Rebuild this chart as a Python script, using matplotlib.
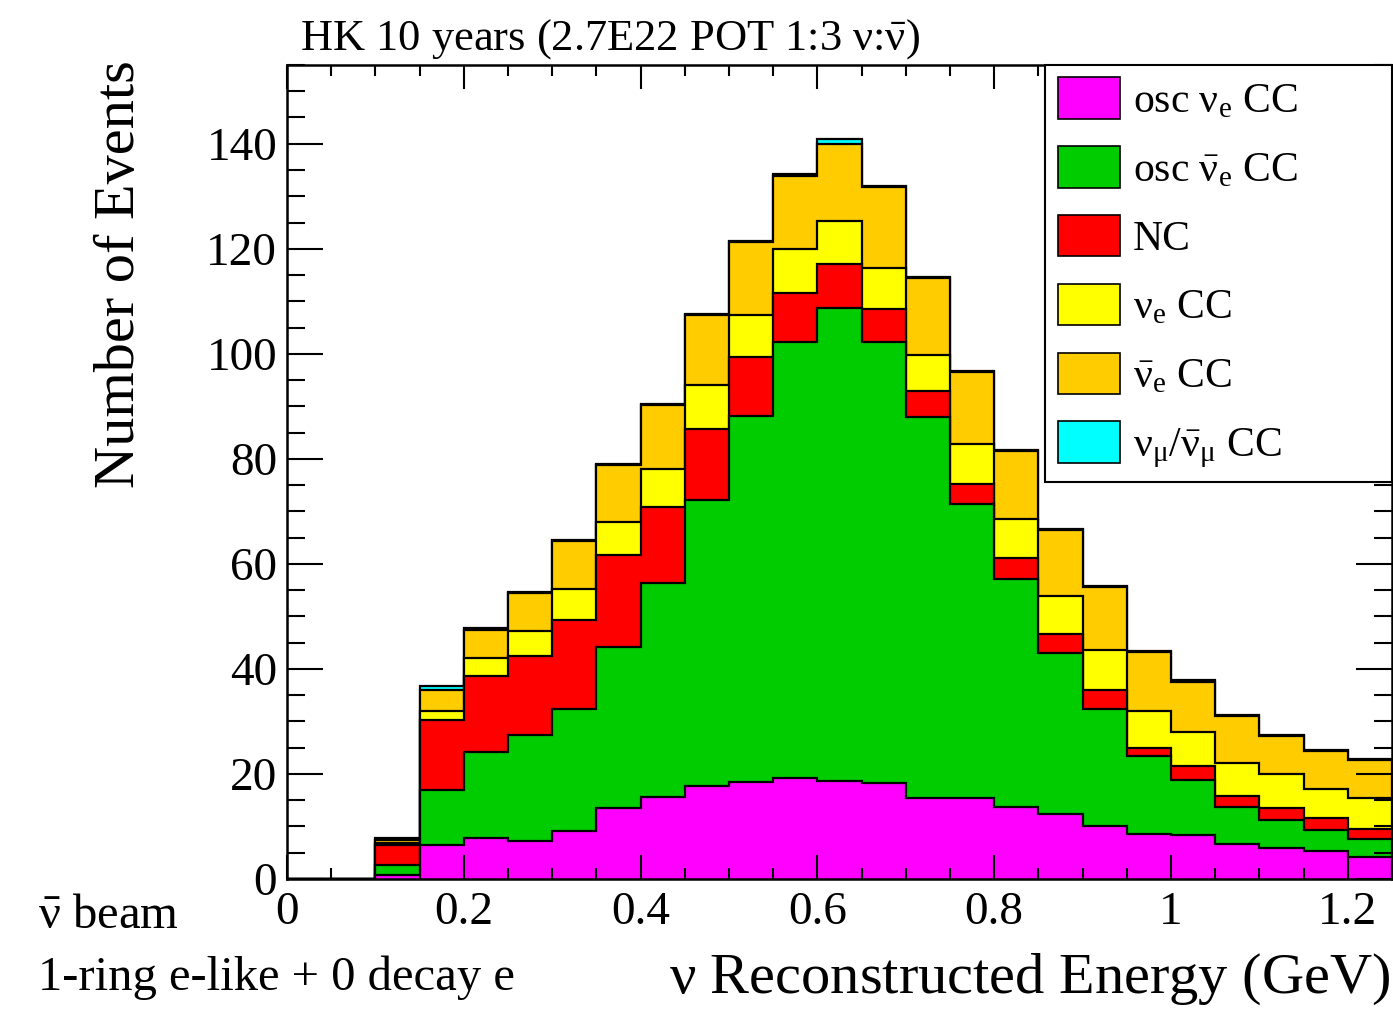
import numpy as np
import matplotlib
matplotlib.use('Agg')
import matplotlib.pyplot as plt
from matplotlib.patches import Patch
from matplotlib.ticker import MultipleLocator

plt.rcParams['font.family'] = ['Liberation Serif', 'DejaVu Serif']
plt.rcParams['mathtext.fontset'] = 'custom'
plt.rcParams['mathtext.rm'] = 'Liberation Serif'
plt.rcParams['mathtext.it'] = 'Liberation Serif:italic'
plt.rcParams['mathtext.bf'] = 'Liberation Serif:bold'

# bin edges in reconstructed energy (GeV)
edges = np.arange(0, 1.2501, 0.05)

# events per bin, one list per component (stacked bottom -> top)
osc_nue = [0, 0, 0.8, 6.5, 7.9, 7.2, 9.1, 13.6, 15.6, 17.7, 18.5, 19.3, 18.7,
           18.2, 15.5, 15.4, 13.7, 12.3, 10.1, 8.5, 8.3, 6.6, 5.9, 5.3, 4.2]
osc_nuebar = [0, 0, 1.8, 10.5, 16.2, 20.3, 23.2, 30.5, 40.7, 54.4, 69.7, 82.9, 90.1,
              84.0, 72.4, 56.0, 43.4, 30.8, 22.2, 14.9, 10.5, 7.1, 5.4, 4.1, 3.5]
nc = [0, 0, 3.9, 13.2, 14.6, 15.0, 17.1, 17.6, 14.6, 13.5, 11.1, 9.3, 8.3,
      6.3, 5.1, 3.8, 4.1, 3.5, 3.6, 1.6, 2.8, 2.1, 2.3, 2.3, 1.9]
nue_cc = [0, 0, 0.4, 1.7, 3.3, 4.7, 5.8, 6.3, 7.1, 8.4, 8.1, 8.4, 8.2,
          7.9, 6.7, 7.6, 7.3, 7.3, 7.7, 7.0, 6.4, 6.3, 6.4, 5.4, 5.9]
nuebar_cc = [0, 0, 0.6, 4.0, 5.5, 7.3, 9.1, 10.9, 12.2, 13.4, 13.8, 14.0, 14.7,
             15.3, 14.7, 13.8, 12.9, 12.5, 12.0, 11.2, 9.6, 9.0, 7.3, 7.2, 7.1]
numu_cc = [0, 0, 0.4, 0.8, 0.2, 0.2, 0.2, 0.2, 0.2, 0.2, 0.3, 0.3, 0.9,
           0.3, 0.3, 0.2, 0.2, 0.2, 0.2, 0.2, 0.2, 0.2, 0.2, 0.2, 0.2]

components = [osc_nue, osc_nuebar, nc, nue_cc, nuebar_cc, numu_cc]
colors = ['#ff00ff', '#00cc00', '#ff0000', '#ffff00', '#ffcc00', '#00ffff']
labels = [r'osc $\mathrm{\nu_e}$ CC',
          r'osc $\mathrm{\bar{\nu}_e}$ CC',
          'NC',
          r'$\mathrm{\nu_e}$ CC',
          r'$\mathrm{\bar{\nu}_e}$ CC',
          r'$\mathrm{\nu_\mu/\bar{\nu}_\mu}$ CC']

stack = np.cumsum(np.array(components), axis=0)

fig = plt.figure(figsize=(13.93, 10.10), dpi=100)
ax = fig.add_axes([0.206, 0.1297, 0.7933, 0.806])

# draw the cumulative histograms from the top layer down
for i in range(len(components) - 1, -1, -1):
    ax.stairs(stack[i], edges, baseline=0, fill=True,
              facecolor=colors[i], edgecolor='black', linewidth=1.6)

ax.set_xlim(0, 1.25)
ax.set_ylim(0, 155)
ax.xaxis.set_major_locator(MultipleLocator(0.2))
ax.xaxis.set_minor_locator(MultipleLocator(0.05))
ax.yaxis.set_major_locator(MultipleLocator(20))
ax.yaxis.set_minor_locator(MultipleLocator(5))
ax.set_xticks([0, 0.2, 0.4, 0.6, 0.8, 1.0, 1.2])
ax.set_xticklabels(['0', '0.2', '0.4', '0.6', '0.8', '1', '1.2'])

ax.tick_params(which='both', direction='in', top=True, right=True, width=1.5, labelsize=34)
ax.tick_params(axis='x', which='major', length=17, pad=9)
ax.tick_params(axis='x', which='minor', length=8)
ax.tick_params(axis='y', which='major', length=26, pad=7)
ax.tick_params(axis='y', which='minor', length=13)
for s in ax.spines.values():
    s.set_linewidth(1.8)

handles = [Patch(facecolor=c, edgecolor='black', linewidth=1.2) for c in colors]
leg = ax.legend(handles, labels, loc='upper left', bbox_to_anchor=(0.686, 0.495, 0.314, 0.505),
                mode='expand', fontsize=30, frameon=True,
                fancybox=False, borderaxespad=0, borderpad=0.3,
                handlelength=1.5, handleheight=1.15, handletextpad=0.3,
                labelspacing=0.6)
leg.get_frame().set_edgecolor('black')
leg.get_frame().set_linewidth(1.5)
leg.get_frame().set_alpha(1)

fig.text(300 / 1393, 1 - 50 / 1010,
         r'HK 10 years (2.7E22 POT 1:3 $\mathrm{\nu}$:$\mathrm{\bar{\nu}}$)',
         fontsize=32, ha='left', va='baseline')
fig.text(120 / 1393, 1 - 274 / 1010, 'Number of Events', fontsize=42,
         rotation=90, ha='center', va='center')
fig.text(1390 / 1393, 1 - 993 / 1010, r'$\mathrm{\nu}$ Reconstructed Energy (GeV)',
         fontsize=42, ha='right', va='baseline')
fig.text(38 / 1393, 1 - 928 / 1010, r'$\mathrm{\bar{\nu}}$ beam', fontsize=35,
         ha='left', va='baseline')
fig.text(38 / 1393, 1 - 990 / 1010, '1-ring e-like + 0 decay e', fontsize=35,
         ha='left', va='baseline')

fig.savefig('out.png', dpi=100)
